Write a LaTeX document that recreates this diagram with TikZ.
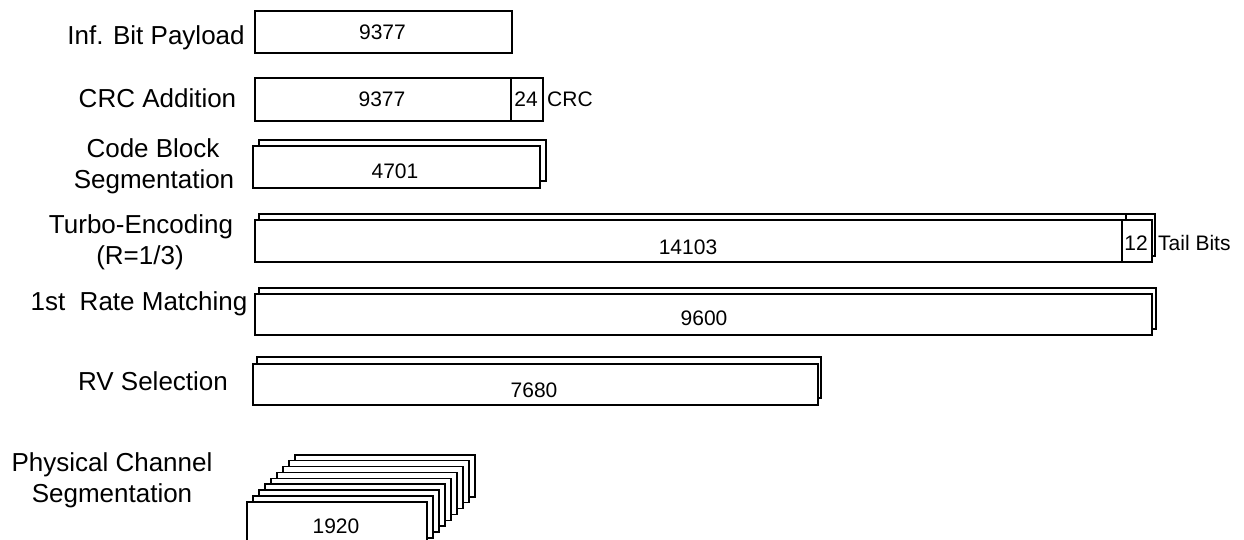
\documentclass[tikz,border=0pt]{standalone}
\usepackage{fontspec}
\setmainfont{Liberation Sans}
\begin{document}
\begin{tikzpicture}[x=1pt,y=-1pt,
  box/.style={draw=black, line width=1.6pt, fill=white, inner sep=0pt, anchor=north west, rectangle},
  lab/.style={font=\fontsize{26}{31}\selectfont, anchor=base, inner sep=0pt},
  num/.style={font=\fontsize{21}{25}\selectfont, anchor=base, inner sep=0pt},
  side/.style={font=\fontsize{21}{25}\selectfont, anchor=base west, inner sep=0pt}]
\useasboundingbox (0,0) rectangle (1244,539);
\clip (0,0) rectangle (1244,539);

% labels
\node[lab] (l1) at (156,44) {Inf. Bit Payload};
\node[lab] (l2) at (157.5,107) {CRC Addition};
\node[lab] (l3a) at (153,157) {Code Block};
\node[lab] (l3b) at (154,188) {Segmentation};
\node[lab] (l4a) at (141,233) {Turbo-Encoding};
\node[lab] (l4b) at (140,264) {(R=1/3)};
\node[lab] (l5) at (139,310) {1st\ \ Rate Matching};
\node[lab] (l6) at (153,390) {RV Selection};
\node[lab] (l7a) at (112,471) {Physical Channel};
\node[lab] (l7b) at (112,502) {Segmentation};

% row 1
\node[box, minimum width=257pt, minimum height=42pt] (b1) at (254,10) {};
\node[num] (t1) at (382.5,39) {9377};

% row 2
\node[box, minimum width=256pt, minimum height=43pt] (b2) at (254,77) {};
\node[box, minimum width=32pt, minimum height=43pt] (b2c) at (510,77) {};
\node[num] (t2) at (382,106.5) {9377};
\node[num] (t2c) at (526,106.5) {24};
\node[side] (s2) at (547,106.5) {CRC};

% row 3
\node[box, minimum width=287pt, minimum height=41pt] (b3back) at (258,139) {};
\node[box, minimum width=287pt, minimum height=42pt] (b3) at (252,145) {};
\node[num] (t3) at (395,178) {4701};

% row 4
\node[box, minimum width=867pt, minimum height=42pt] (b4back) at (258,213) {};
\node[box, minimum width=29pt, minimum height=42pt] (b4tback) at (1125,213) {};
\node[box, minimum width=867pt, minimum height=42pt] (b4) at (254,219) {};
\node[box, minimum width=30pt, minimum height=42pt] (b4t) at (1121,219) {};
\node[num] (t4) at (688,254) {14103};
\node[num] (t4t) at (1136,250) {12};
\node[side] (s4) at (1158,250) {Tail Bits};

% row 5
\node[box, minimum width=897pt, minimum height=41pt] (b5back) at (258,287) {};
\node[box, minimum width=897pt, minimum height=41pt] (b5) at (254,293) {};
\node[num] (t5) at (704,325) {9600};

% row 6
\node[box, minimum width=564pt, minimum height=41pt] (b6back) at (256,356) {};
\node[box, minimum width=565pt, minimum height=41pt] (b6) at (252,363) {};
\node[num] (t6) at (534,397) {7680};

% row 7
\foreach \k in {8,7,...,1} {
  \node[box, minimum width=180pt, minimum height=42pt] (b7back\k) at ({246+6*\k},{501-5.875*\k}) {};
}
\node[box, minimum width=180pt, minimum height=42pt] (b7) at (246,501) {};
\node[num] (t7) at (336,533) {1920};
\end{tikzpicture}
\end{document}
